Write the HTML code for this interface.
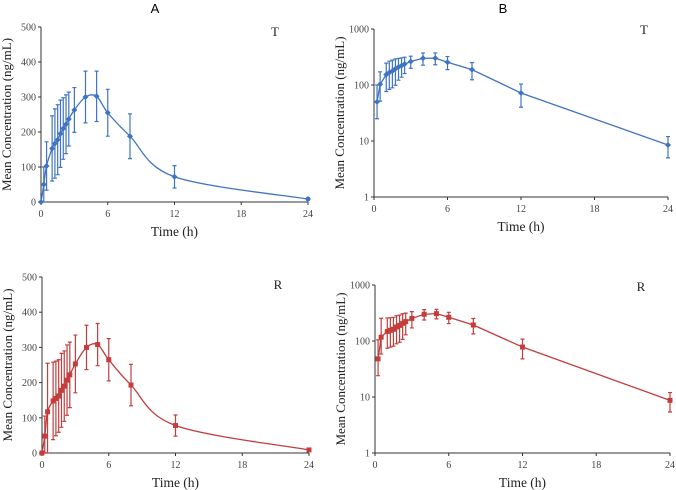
<!DOCTYPE html>
<html><head><meta charset="utf-8"><style>
body{margin:0;background:#fff;width:676px;height:490px;overflow:hidden}
svg{display:block}
text{font-family:"Liberation Serif",serif}
</style></head><body>
<svg id="chart" width="676" height="490"></svg>
<script>
const times=[0,0.25,0.5,1,1.25,1.5,1.75,2,2.25,2.5,3,4,5,6,8,12,24];
const tMean=[0,50,103,153,167,178,195,210,222,237,263,300,302,255,188,72,8.5];
const tSD=[0,50,69,93,99,100,96,88,84,77,64,74,72,67,64,32,3.5];
const rMean=[0,48,117,148,155,162,178,190,207,222,253,300,308,265,193,78,8.7];
const rSD=[0,57,138,110,106,103,105,100,100,93,82,63,60,60,59,30,3.3];
const xTicks=[0,6,12,18,24];
const linTicks=[0,100,200,300,400,500];
const logTicks=[1,10,100,1000];

const NS="http://www.w3.org/2000/svg";
const svg=document.getElementById('chart');
function mk(tag,attrs,parent){const e=document.createElementNS(NS,tag);for(const k in attrs)e.setAttribute(k,attrs[k]);(parent||svg).appendChild(e);return e;}

const panels=[
 {name:'panel-a-test-linear',x0:41,x1:308,yb:202,yt:27,log:false,mean:tMean,sd:tSD,color:'#3f74c2',marker:'diamond',lbl:'T',lx:275,ly:36,title:'A',tx:155,ty:13},
 {name:'panel-b-test-log',x0:374,x1:668,yb:197,yt:29,log:true,mean:tMean,sd:tSD,color:'#3f74c2',marker:'diamond',lbl:'T',lx:644,ly:34,title:'B',tx:503,ty:13},
 {name:'panel-a-reference-linear',x0:42,x1:309,yb:453,yt:277,log:false,mean:rMean,sd:rSD,color:'#c43d3d',marker:'square',lbl:'R',lx:278,ly:289,title:null},
 {name:'panel-b-reference-log',x0:375,x1:670,yb:453,yt:285,log:true,mean:rMean,sd:rSD,color:'#c43d3d',marker:'square',lbl:'R',lx:641,ly:291,title:null}
];

panels.forEach(p=>{
 const g=mk('g',{});
 
 
 const xs=t=>p.x0+(p.x1-p.x0)*t/24;
 const ys=v=>{
  if(p.log){const lv=Math.log10(Math.max(v,1));return p.yb-(p.yb-p.yt)*lv/3;}
  return p.yb-(p.yb-p.yt)*v/500;
 };
 if(p.title){const t=mk('text',{x:p.tx,y:p.ty,'font-size':13,'text-anchor':'middle',style:'font-family:"Liberation Sans",sans-serif'},g);t.textContent=p.title;
  }
 // axes
 const ax=mk('path',{d:`M${p.x0},${p.yt} V${p.yb} H${p.x1}`,stroke:'#333',fill:'none','stroke-width':1},g);
 
 xTicks.forEach(t=>{
  mk('line',{x1:xs(t),x2:xs(t),y1:p.yb,y2:p.yb+3,stroke:'#333'},g);
  const tt=mk('text',{x:xs(t),y:p.yb+15,'font-size':10,'text-anchor':'middle',fill:'#444'},g);tt.textContent=t;
  
 });
 (p.log?logTicks:linTicks).forEach(v=>{
  mk('line',{x1:p.x0-3,x2:p.x0,y1:ys(v),y2:ys(v),stroke:'#333'},g);
  const tt=mk('text',{x:p.x0-5,y:ys(v)+3.5,'font-size':10,'text-anchor':'end',fill:'#444'},g);tt.textContent=v;
  
 });
 const xl=mk('text',{x:(p.x0+p.x1)/2,y:p.yb+34,'font-size':13.5,'text-anchor':'middle',fill:'#222'},g);xl.textContent='Time (h)';
 
 const ycx=p.x0-30,ycy=(p.yt+p.yb)/2;
 const yl=mk('text',{x:ycx,y:ycy,'font-size':13,'text-anchor':'middle',fill:'#222',transform:`rotate(-90 ${ycx} ${ycy})`},g);yl.textContent='Mean Concentration (ng/mL)';
 
 const lb=mk('text',{x:p.lx,y:p.ly,'font-size':13,'text-anchor':'middle',fill:'#222'},g);lb.textContent=p.lbl;
 
 // points
 const idx=times.map((t,i)=>i).filter(i=>!p.log||p.mean[i]>0);
 const pts=idx.map(i=>[xs(times[i]),ys(p.mean[i])]);
 let d='M'+pts[0].join(',');
 if(p.log){for(let k=1;k<pts.length;k++)d+=' L'+pts[k].join(',');}
 else{
  for(let k=0;k<pts.length-1;k++){
   const a=pts[Math.max(k-1,0)],b=pts[k],c=pts[k+1],e=pts[Math.min(k+2,pts.length-1)];
   const s=1/6;
   d+=` C${b[0]+(c[0]-a[0])*s},${b[1]+(c[1]-a[1])*s} ${c[0]-(e[0]-b[0])*s},${c[1]-(e[1]-b[1])*s} ${c[0]},${c[1]}`;
  }
 }
 const ln=mk('path',{d:d,stroke:p.color,fill:'none','stroke-width':1.3},g);
 
 idx.forEach(i=>{
  const m=p.mean[i],s=p.sd[i],x=xs(times[i]);
  if(s>0){
   let lo=m-s; if(p.log&&lo<m/2)lo=m/2; if(!p.log&&lo<0)lo=0;
   const y1=ys(m+s),y2=ys(lo);
   const eb=mk('path',{d:`M${x},${y1} V${y2} M${x-2},${y1} H${x+2} M${x-2},${y2} H${x+2}`,stroke:p.color,'stroke-width':1.2,fill:'none'},g);
   
  }
  const y=ys(m);
  let mkr;
  if(p.marker==='square')mkr=mk('rect',{x:x-2.5,y:y-2.5,width:5,height:5,fill:p.color},g);
  else mkr=mk('path',{d:`M${x},${y-3} L${x+3},${y} L${x},${y+3} L${x-3},${y} Z`,fill:p.color},g);
  
 });
});
</script>
</body></html>
